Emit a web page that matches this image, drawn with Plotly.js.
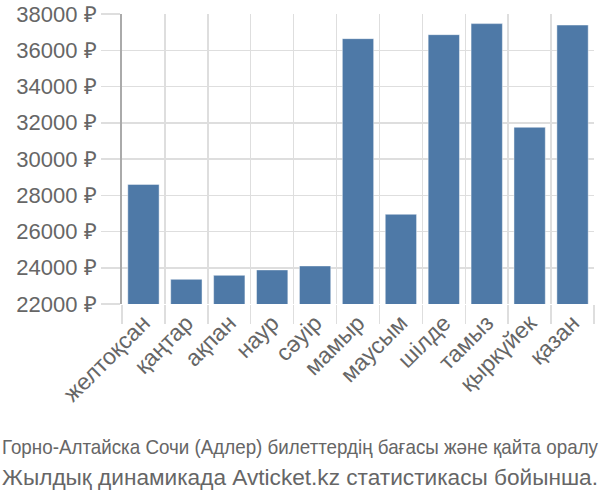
<!DOCTYPE html>
<html>
<head>
<meta charset="utf-8">
<script src="https://cdn.plot.ly/plotly-3.0.1.min.js"></script>
<style>
  html, body { margin: 0; padding: 0; background: #fff; }
  #chart { width: 600px; height: 500px; }
</style>
</head>
<body>
<div id="chart"></div>
<script>
// months, in the order shown on the chart
const months = [
  "желтоқсан", "қаңтар", "ақпан", "наур", "сәуір", "мамыр",
  "маусым", "шілде", "тамыз", "қыркүйек", "қазан",
];
// average ticket price, roubles
const prices = [
  28600, 23360, 23580, 23880, 24100, 36640,
  26950, 36860, 37470, 31750, 37390,
];
const captionLines = [
  "Горно-Алтайска Сочи (Адлер) билеттердің бағасы және қайта оралу",
  "Жылдық динамикада Avticket.kz статистикасы бойынша.",
];

const textColor = "#666666";
const gridColor = "#dedede";

const trace = {
  type: "bar",
  x: months,
  y: prices,
  marker: {
    color: "#4e79a7",
    line: { color: "rgba(255,255,255,0.45)", width: 1 },
  },
  hoverinfo: "x+y",
};

const layout = {
  width: 600,
  height: 500,
  margin: { l: 122, r: 6, t: 14, b: 196 },
  paper_bgcolor: "#ffffff",
  plot_bgcolor: "#ffffff",
  font: { family: "Liberation Sans, Arial, sans-serif", color: textColor, size: 23 },
  showlegend: false,
  bargap: 0.27,
  xaxis: {
    type: "category",
    tickson: "boundaries",
    tickangle: -45,
    ticks: "outside",
    ticklen: 19,
    tickcolor: gridColor,
    tickwidth: 1.5,
    showgrid: true,
    gridcolor: gridColor,
    gridwidth: 1.5,
    showline: false,
    zeroline: false,
    tickfont: { size: 23, color: textColor },
  },
  yaxis: {
    range: [22000, 38000],
    dtick: 2000,
    tick0: 22000,
    ticksuffix: " ₽",
    tickformat: "d",
    ticks: "outside",
    ticklen: 19,
    tickcolor: gridColor,
    tickwidth: 1.5,
    showgrid: true,
    gridcolor: gridColor,
    gridwidth: 1.5,
    showline: true,
    linecolor: "#aaaaaa",
    linewidth: 2,
    zeroline: false,
    tickfont: { size: 22, color: textColor },
  },
  annotations: [
    {
      text: captionLines[0],
      xref: "paper", yref: "paper",
      x: 0.5, y: -0.493,
      xanchor: "center", yanchor: "middle",
      showarrow: false,
      font: { size: 21, color: textColor },
    },
    {
      text: captionLines[1],
      xref: "paper", yref: "paper",
      x: 0.5, y: -0.597,
      xanchor: "center", yanchor: "middle",
      showarrow: false,
      font: { size: 22, color: textColor },
    },
  ],
};

const gd = document.getElementById("chart");
Plotly.newPlot(gd, [trace], layout, { displayModeBar: false, staticPlot: true }).then(() => {
  // caption lines are fitted to the full page width in the original
  const left = gd.getBoundingClientRect().left;
  gd.querySelectorAll(".annotation-text").forEach((t) => {
    t.setAttribute("textLength", "596");
    t.setAttribute("lengthAdjust", "spacingAndGlyphs");
    const box = t.getBoundingClientRect();
    const dx = 2 - (box.left - left);
    t.setAttribute("transform", `translate(${dx},0)`);
  });
});
</script>
</body>
</html>
